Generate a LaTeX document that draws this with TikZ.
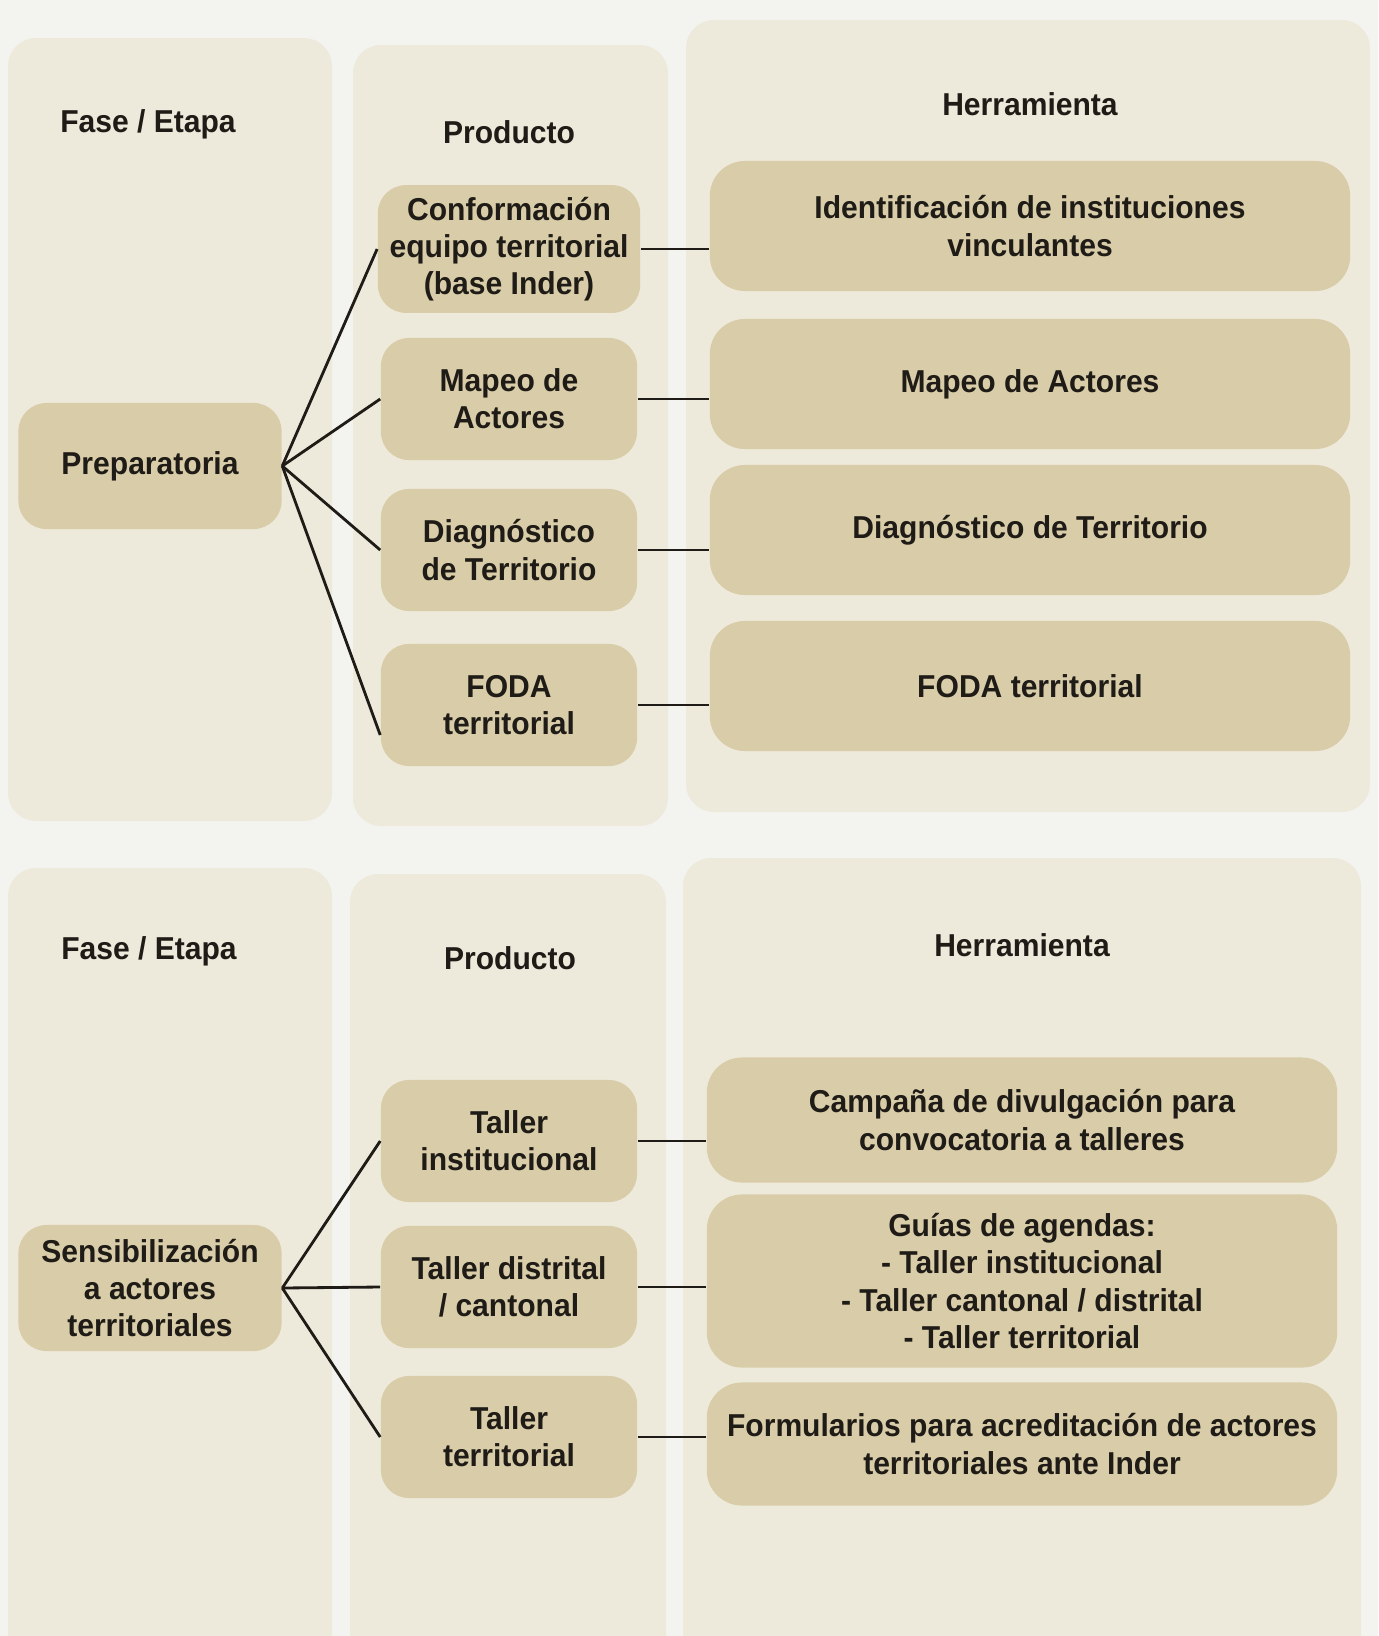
\documentclass[tikz,border=0pt]{standalone}
\usepackage{fontspec}
\setmainfont{Liberation Sans}
\newfontfamily\boxfont[FakeStretch=0.95]{Liberation Sans}

\definecolor{pagebg}{HTML}{F3F3EF}
\definecolor{colbg}{HTML}{EEEADB}
\definecolor{boxbg}{HTML}{D9CDA9}
\definecolor{ink}{HTML}{1F1B16}

\begin{document}
\begin{tikzpicture}[x=0.01cm, y=-0.01cm,
    column/.style={fill=colbg, rounded corners=0.28cm},
    txt/.style={font=\boxfont\bfseries\fontsize{9}{10.6}\selectfont, text=ink, align=center},
    phase/.style={txt, fill=boxbg, rounded corners=0.28cm, minimum width=2.63cm, minimum height=1.26cm},
    product/.style={phase, minimum width=2.56cm, minimum height=1.22cm},
    tool/.style={phase, rounded corners=0.35cm, minimum width=6.4cm, minimum height=1.3cm},
    link/.style={draw=ink, line width=0.8pt}]

    % Page
    \useasboundingbox (0,0) rectangle (1378,1636);
    \clip (0,0) rectangle (1378,1636);
    \fill[pagebg] (0,0) rectangle (1378,1636);

    % Columns (top panel)
    \fill[column] (8,38) rectangle (332,821);
    \fill[column] (353,45) rectangle (668,826);
    \fill[column] (686,20) rectangle (1370,812);

    % Columns (bottom panel)
    \fill[column] (8,868) rectangle (332,1720);
    \fill[column] (350,874) rectangle (666,1720);
    \fill[column] (683,858) rectangle (1361,1720);

    % Headers
    \node[txt] (hfase1) at (148,124) {Fase / Etapa};
    \node[txt] (hprod1) at (509,132) {Producto};
    \node[txt] (hherr1) at (1030,104) {Herramienta};
    \node[txt] (hfase2) at (149,951) {Fase / Etapa};
    \node[txt] (hprod2) at (510,958) {Producto};
    \node[txt] (hherr2) at (1022,945) {Herramienta};

    % Top panel: phase, products, tools
    \node[phase] (prep) at (150,466) {Preparatoria};

    \node[product] (conf) at (509,249) {Conformación\\equipo territorial\\(base Inder)};
    \node[product] (mapeo) at (509,399) {Mapeo de\\Actores};
    \node[product] (diag) at (509,550) {Diagnóstico\\de Territorio};
    \node[product] (foda) at (509,705) {FODA\\territorial};

    \node[tool] (tident) at (1030,226) {Identificación de instituciones\\vinculantes};
    \node[tool] (tmapeo) at (1030,384) {Mapeo de Actores};
    \node[tool] (tdiag) at (1030,530) {Diagnóstico de Territorio};
    \node[tool] (tfoda) at (1030,686) {FODA territorial};

    % Top panel: links
    \foreach \p in {conf, mapeo, diag}
        \draw[link] (prep.east) -- (\p.west);
    \draw[link] (prep.east) -- ([yshift=-3mm]foda.west);
    \foreach \p/\t in {conf/tident, mapeo/tmapeo, diag/tdiag, foda/tfoda}
        \draw[link] (\p.east) -- (\p.east -| \t.west);

    % Bottom panel: phase, products, tools
    \node[phase] (sens) at (150,1288) {Sensibilización\\a actores\\territoriales};

    \node[product] (tinst) at (509,1141) {Taller\\institucional};
    \node[product] (tdist) at (509,1287) {Taller distrital\\/ cantonal};
    \node[product] (tterr) at (509,1437) {Taller\\territorial};

    \node[tool, minimum width=6.3cm, minimum height=1.25cm] (tcamp) at (1022,1120) {Campaña de divulgación para\\convocatoria a talleres};
    \node[tool, minimum width=6.3cm, minimum height=1.73cm] (tguias) at (1022,1281) {Guías de agendas:\\- Taller institucional\\- Taller cantonal / distrital\\- Taller territorial};
    \node[tool, minimum width=6.3cm, minimum height=1.23cm] (tform) at (1022,1444) {Formularios para acreditación de actores\\territoriales ante Inder};

    % Bottom panel: links
    \foreach \p in {tinst, tdist, tterr}
        \draw[link] (sens.east) -- (\p.west);
    \foreach \p/\t in {tinst/tcamp, tdist/tguias, tterr/tform}
        \draw[link] (\p.east) -- (\p.east -| \t.west);

\end{tikzpicture}
\end{document}
